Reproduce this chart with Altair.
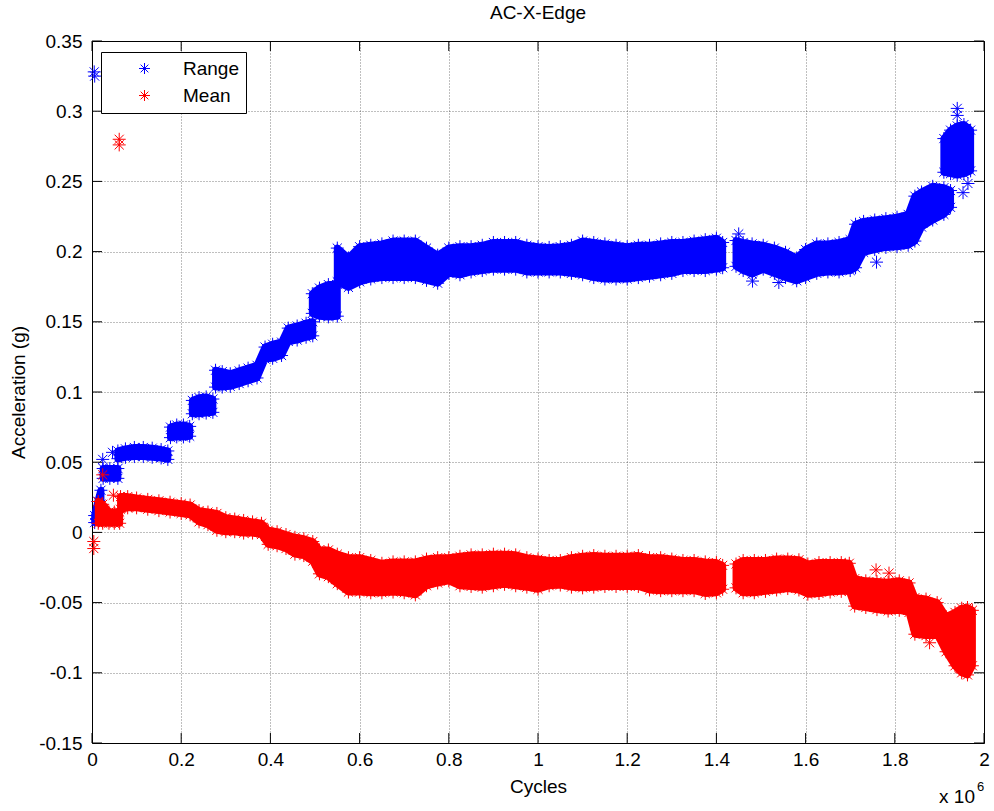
import altair as alt
import pandas as pd

# ---------------- data (x in millions of cycles, y in g) ----------------
X_TICKS = [0, 0.2, 0.4, 0.6, 0.8, 1, 1.2, 1.4, 1.6, 1.8, 2]
Y_TICKS = [-0.15, -0.1, -0.05, 0, 0.05, 0.1, 0.15, 0.2, 0.25, 0.3, 0.35]
SERIES = ["Range", "Mean"]
COLORS = ["#0000ff", "#ff0000"]

# Range: dense clusters, given as segments of (x, lower edge, upper edge)
RANGE_X = [
    [0.006, 0.013, 0.020],
    [0.025, 0.040, 0.058],
    [0.058, 0.075, 0.095, 0.115, 0.135, 0.155, 0.170],
    [0.176, 0.190, 0.205, 0.219],
    [0.225, 0.240, 0.256, 0.271],
    [0.277, 0.292, 0.310, 0.330, 0.350, 0.370, 0.388, 0.405, 0.425, 0.440, 0.460, 0.480, 0.495],
    [0.494, 0.510, 0.530, 0.550],
    [0.55, 0.575, 0.6, 0.625, 0.65, 0.675, 0.7, 0.725, 0.75, 0.775, 0.8, 0.825, 0.85, 0.875,
     0.9, 0.925, 0.95, 0.975, 1.0, 1.025, 1.05, 1.075, 1.1, 1.125, 1.15, 1.175, 1.2, 1.225,
     1.25, 1.275, 1.3, 1.325, 1.35, 1.375, 1.4, 1.414],
    [1.444, 1.46, 1.48, 1.505, 1.53, 1.555, 1.58, 1.6, 1.625, 1.65, 1.675, 1.7, 1.712, 1.73,
     1.755, 1.78, 1.805, 1.83, 1.845, 1.86, 1.885, 1.91, 1.925],
    [1.91, 1.925, 1.94, 1.955, 1.97],
]
RANGE_LO = [
    [0.007, 0.013, 0.020],
    [0.0385, 0.0385, 0.0385],
    [0.0525, 0.0535, 0.054, 0.054, 0.0535, 0.053, 0.052],
    [0.0675, 0.068, 0.068, 0.0685],
    [0.0845, 0.0845, 0.085, 0.0855],
    [0.1035, 0.1035, 0.104, 0.106, 0.108, 0.110, 0.1235, 0.124, 0.126, 0.136, 0.137, 0.139, 0.140],
    [0.156, 0.154, 0.1535, 0.154],
    [0.1785, 0.1745, 0.1785, 0.1805, 0.1815, 0.1815, 0.1815, 0.1815, 0.1795, 0.1775, 0.1845,
     0.1835, 0.1855, 0.1865, 0.1875, 0.1875, 0.1875, 0.1855, 0.1855, 0.1855, 0.1855, 0.1845,
     0.1835, 0.1815, 0.1805, 0.1805, 0.1805, 0.1815, 0.1825, 0.1835, 0.1845, 0.1865, 0.1865,
     0.1865, 0.1875, 0.1885],
    [0.1895, 0.1865, 0.184, 0.1875, 0.1845, 0.1815, 0.1792, 0.1815, 0.1845, 0.1855, 0.1855,
     0.1865, 0.1885, 0.1995, 0.2015, 0.203, 0.2035, 0.2045, 0.2075, 0.2175, 0.2225, 0.2265, 0.2315],
    [0.2565, 0.2555, 0.2545, 0.2555, 0.2575],
]
RANGE_HI = [
    [0.012, 0.022, 0.030],
    [0.0455, 0.0455, 0.0455],
    [0.058, 0.0595, 0.0605, 0.0605, 0.060, 0.059, 0.058],
    [0.075, 0.0765, 0.0765, 0.0755],
    [0.094, 0.096, 0.0965, 0.095],
    [0.1155, 0.1145, 0.113, 0.115, 0.117, 0.119, 0.132, 0.134, 0.1355, 0.1455, 0.147, 0.149, 0.150],
    [0.170, 0.174, 0.1765, 0.1765],
    [0.2025, 0.1955, 0.2035, 0.2045, 0.2055, 0.2075, 0.2075, 0.2075, 0.2025, 0.1975, 0.2025,
     0.2035, 0.2035, 0.2045, 0.2065, 0.2065, 0.2065, 0.2045, 0.2035, 0.2030, 0.2035, 0.2045,
     0.2075, 0.2065, 0.2055, 0.2045, 0.2035, 0.2045, 0.2045, 0.2055, 0.2065, 0.2065, 0.2075,
     0.2085, 0.2095, 0.2065],
    [0.2079, 0.2065, 0.2055, 0.2045, 0.2025, 0.1995, 0.1955, 0.2015, 0.2055, 0.2055, 0.2065,
     0.2085, 0.2195, 0.2215, 0.2225, 0.2235, 0.2245, 0.2265, 0.2395, 0.2425, 0.2465, 0.2455, 0.2435],
    [0.2805, 0.2865, 0.2895, 0.2905, 0.2865],
]
RANGE_OUT_X = [0.005, 0.006, 0.024, 0.046, 1.45, 1.481, 1.54, 1.759, 1.940, 1.940, 1.953, 1.964]
RANGE_OUT_Y = [0.328, 0.325, 0.052, 0.057, 0.2126, 0.179, 0.178, 0.1925, 0.302, 0.297, 0.242, 0.2485]

# Mean
MEAN_X = [
    [0.014, 0.024, 0.038, 0.050, 0.062],
    [0.064, 0.08, 0.1, 0.125, 0.15, 0.175, 0.2, 0.22, 0.24, 0.26, 0.28, 0.3, 0.32, 0.34, 0.36,
     0.38, 0.395, 0.415, 0.435, 0.455, 0.475, 0.495, 0.51, 0.53, 0.55, 0.575, 0.6, 0.625, 0.65,
     0.675, 0.7, 0.725, 0.75, 0.775, 0.8, 0.825, 0.85, 0.875, 0.9, 0.925, 0.95, 0.975, 1.0,
     1.025, 1.05, 1.075, 1.1, 1.125, 1.15, 1.175, 1.2, 1.225, 1.25, 1.275, 1.3, 1.325, 1.35,
     1.375, 1.4, 1.414],
    [1.444, 1.46, 1.485, 1.51, 1.535, 1.56, 1.585, 1.605, 1.63, 1.655, 1.68, 1.698, 1.71, 1.735,
     1.76, 1.785, 1.81, 1.832, 1.845, 1.87, 1.895, 1.915, 1.935, 1.95, 1.963, 1.974],
]
MEAN_LO = [
    [0.0065, 0.0065, 0.0065, 0.0065, 0.0065],
    [0.0165, 0.0175, 0.0175, 0.0165, 0.0155, 0.0145, 0.0135, 0.0125, 0.0075, 0.0055, 0.0015,
     0.0005, 0.0005, -0.0005, -0.0005, -0.0015, -0.0085, -0.0095, -0.0115, -0.0155, -0.0165,
     -0.0205, -0.0295, -0.0315, -0.0365, -0.0425, -0.0425, -0.043, -0.043, -0.0425, -0.043,
     -0.0445, -0.038, -0.036, -0.0345, -0.038, -0.0385, -0.039, -0.038, -0.037, -0.038, -0.039,
     -0.0405, -0.038, -0.0375, -0.039, -0.0395, -0.039, -0.0385, -0.0385, -0.0385, -0.0385,
     -0.041, -0.0415, -0.0415, -0.0415, -0.0415, -0.0435, -0.043, -0.0405],
    [-0.0395, -0.043, -0.043, -0.042, -0.041, -0.040, -0.041, -0.044, -0.0435, -0.0425, -0.042,
     -0.042, -0.0525, -0.0535, -0.055, -0.056, -0.0555, -0.057, -0.0725, -0.0735, -0.0725,
     -0.085, -0.095, -0.100, -0.1015, -0.095],
]
MEAN_HI = [
    [0.022, 0.020, 0.0145, 0.0145, 0.0145],
    [0.0255, 0.0255, 0.0245, 0.0235, 0.0225, 0.0215, 0.0205, 0.0195, 0.0155, 0.0145, 0.0135,
     0.0105, 0.0095, 0.0085, 0.0075, 0.0065, 0.0015, 0.0005, -0.0015, -0.0035, -0.0045,
     -0.0065, -0.0125, -0.0125, -0.0155, -0.018, -0.018, -0.020, -0.022, -0.021, -0.021,
     -0.021, -0.019, -0.018, -0.018, -0.017, -0.016, -0.016, -0.0155, -0.0155, -0.016, -0.018,
     -0.019, -0.020, -0.020, -0.018, -0.017, -0.0165, -0.017, -0.017, -0.017, -0.0165, -0.018,
     -0.018, -0.019, -0.020, -0.020, -0.021, -0.0215, -0.0235],
    [-0.0225, -0.020, -0.020, -0.020, -0.019, -0.019, -0.0195, -0.0225, -0.0215, -0.0215,
     -0.0215, -0.022, -0.033, -0.0345, -0.035, -0.0355, -0.0345, -0.036, -0.0465, -0.0475,
     -0.050, -0.060, -0.057, -0.054, -0.0535, -0.0555],
]
MEAN_OUT_X = [0.004, 0.004, 0.024, 0.048, 0.061, 0.061, 1.758, 1.787, 1.878]
MEAN_OUT_Y = [-0.0065, -0.0115, 0.041, 0.0265, 0.280, 0.276, -0.0267, -0.029, -0.0786]


# ---------------- tables ----------------
def band_frame(name, xs, los, his):
    rows = []
    for s, (xx, ll, hh) in enumerate(zip(xs, los, his)):
        assert len(xx) == len(ll) == len(hh), (name, s)
        for a, b, c in zip(xx, ll, hh):
            rows.append({"series": name, "seg": s, "x": a, "lo": b, "hi": c})
    return pd.DataFrame(rows)


def point_frame(name, band, ox, oy):
    rows = []
    for _, r in band.iterrows():
        rows.append({"series": name, "x": r["x"], "y": r["lo"]})
        rows.append({"series": name, "x": r["x"], "y": r["hi"]})
    for a, b in zip(ox, oy):
        rows.append({"series": name, "x": a, "y": b})
    return pd.DataFrame(rows)


band_r = band_frame("Range", RANGE_X, RANGE_LO, RANGE_HI)
band_m = band_frame("Mean", MEAN_X, MEAN_LO, MEAN_HI)
pts_r = point_frame("Range", band_r, RANGE_OUT_X, RANGE_OUT_Y)
pts_m = point_frame("Mean", band_m, MEAN_OUT_X, MEAN_OUT_Y)

# ---------------- styling ----------------
FONT = "Liberation Sans"
FS = 19
W, H = 892, 702
AST = "M-1,0L1,0M0,-1L0,1M-0.7,-0.7L0.7,0.7M-0.7,0.7L0.7,-0.7"

XS = alt.Scale(domain=[0, 2], nice=False, zero=False)
YS = alt.Scale(domain=[-0.15, 0.35], nice=False, zero=False)
COL = alt.Scale(domain=SERIES, range=COLORS)

X_AXIS = alt.Axis(title="Cycles", values=X_TICKS, labelExpr="toString(datum.value)",
                  ticks=False, tickSize=0, domain=False, grid=True, gridDash=[1, 2],
                  gridColor="#000000", gridOpacity=0.5, labelFontSize=FS, titleFontSize=FS,
                  labelFont=FONT, titleFont=FONT, labelColor="black", titleColor="black",
                  titleFontWeight="normal", labelPadding=7, titlePadding=8,
                  labelFlush=False, labelOverlap=False)
Y_AXIS = alt.Axis(title="Acceleration (g)", values=Y_TICKS, labelExpr="toString(datum.value)",
                  ticks=False, tickSize=0, domain=False, grid=True, gridDash=[1, 2],
                  gridColor="#000000", gridOpacity=0.5, labelFontSize=FS, titleFontSize=FS,
                  labelFont=FONT, titleFont=FONT, labelColor="black", titleColor="black",
                  titleFontWeight="normal", labelPadding=10, titlePadding=10,
                  labelFlush=False, labelOverlap=False)

LEG = alt.Legend(title=None, orient="none", legendX=9, legendY=11, padding=7,
                 strokeColor="black", fillColor="white", cornerRadius=0,
                 symbolType=AST, symbolSize=121, symbolStrokeWidth=1,
                 symbolOffset=27, labelOffset=29, rowPadding=7,
                 labelFontSize=FS, labelFont=FONT, labelColor="black")


def area_layer(df, color):
    return alt.Chart(df).mark_area(opacity=1, interpolate="linear", color=color,
                                   stroke=color, strokeWidth=7, strokeJoin="round").encode(
        x=alt.X("x:Q", scale=XS, axis=X_AXIS),
        y=alt.Y("lo:Q", scale=YS, axis=Y_AXIS),
        y2="hi:Q",
        detail="seg:N",
    )


def point_layer(df):
    return alt.Chart(df).mark_point(shape=AST, filled=False, size=169, strokeWidth=1,
                                    opacity=1).encode(
        x=alt.X("x:Q", scale=XS, axis=X_AXIS),
        y=alt.Y("y:Q", scale=YS, axis=Y_AXIS),
        stroke=alt.Stroke("series:N", scale=COL, legend=LEG),
    )


xt = pd.DataFrame({"v": X_TICKS})
yt = pd.DataFrame({"v": Y_TICKS})
TL = 10
tick_b = alt.Chart(xt).mark_rule(color="black", strokeWidth=1).encode(
    x=alt.X("v:Q", scale=XS, axis=X_AXIS), y=alt.value(H), y2=alt.value(H - TL))
tick_t = alt.Chart(xt).mark_rule(color="black", strokeWidth=1).encode(
    x=alt.X("v:Q", scale=XS, axis=X_AXIS), y=alt.value(0), y2=alt.value(TL))
tick_l = alt.Chart(yt).mark_rule(color="black", strokeWidth=1).encode(
    y=alt.Y("v:Q", scale=YS, axis=Y_AXIS), x=alt.value(0), x2=alt.value(TL))
tick_r = alt.Chart(yt).mark_rule(color="black", strokeWidth=1).encode(
    y=alt.Y("v:Q", scale=YS, axis=Y_AXIS), x=alt.value(W), x2=alt.value(W - TL))

mult = alt.Chart(pd.DataFrame({"t": ["x 10"]})).mark_text(
    font=FONT, fontSize=FS, align="right", baseline="middle", color="black").encode(
    x=alt.value(883), y=alt.value(756), text="t:N")
mult_exp = alt.Chart(pd.DataFrame({"t": ["6"]})).mark_text(
    font=FONT, fontSize=13, align="left", baseline="middle", color="black").encode(
    x=alt.value(885), y=alt.value(746), text="t:N")

chart = alt.layer(
    area_layer(band_r, COLORS[0]), point_layer(pts_r),
    area_layer(band_m, COLORS[1]), point_layer(pts_m),
    tick_b, tick_t, tick_l, tick_r, mult, mult_exp,
).properties(
    width=W, height=H,
    title=alt.TitleParams("AC-X-Edge", fontSize=FS, fontWeight="normal", font=FONT,
                          color="black", offset=9, anchor="middle"),
    autosize=alt.AutoSizeParams(type="none"),
    padding={"left": 92, "top": 41, "right": 10, "bottom": 68},
).configure(font=FONT, background="white").configure_view(stroke="black", strokeWidth=1)

chart.save("out.html", embed_options={"renderer": "svg", "actions": False})
